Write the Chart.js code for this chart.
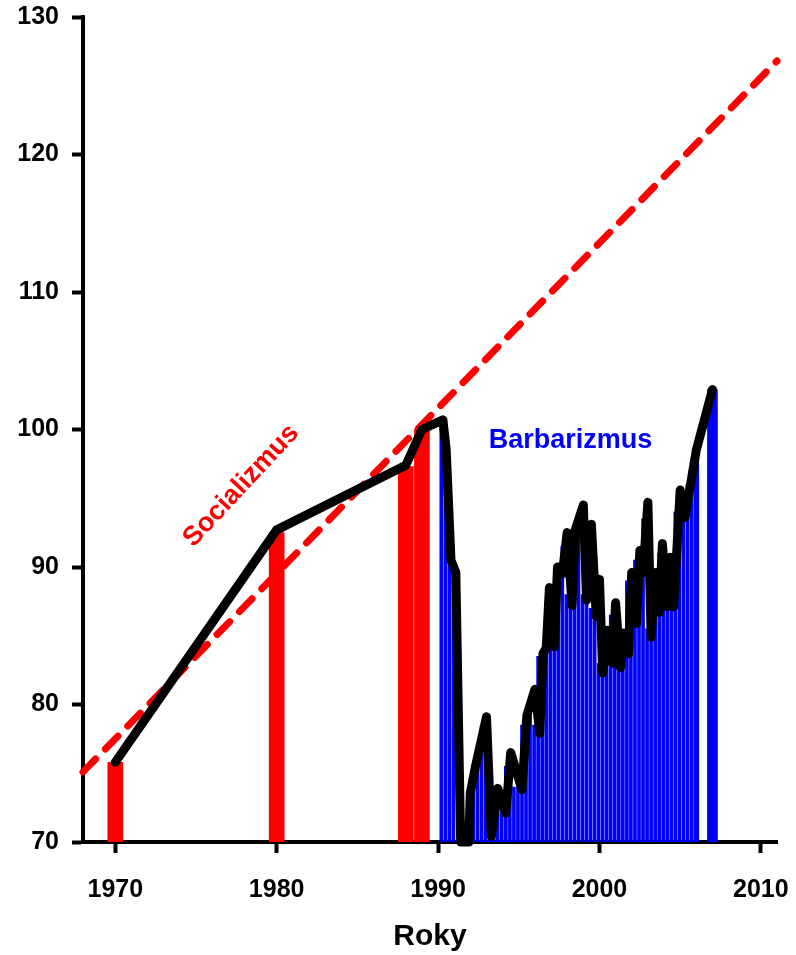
<!DOCTYPE html>
<html>
<head>
<meta charset="utf-8">
<script src="https://cdn.jsdelivr.net/npm/chart.js@4"></script>
<style>
  body { margin: 0; background: #fff; }
  canvas { display: block; }
</style>
</head>
<body>
<canvas id="chart" width="796" height="955"></canvas>
<script>
try {

    // Data
    const xTicks = [1970, 1980, 1990, 2000, 2010];
    const yTicks = [70, 80, 90, 100, 110, 120, 130];

    // annual bars before 1990 (red)
    const redYears = [1970, 1980, 1988, 1989];
    const redValues = [75.8, 92.5, 97.3, 100.0];

    // quarterly bars from 1990 (blue)
    const blueStart = 1990.2;
    const blueValues = [
      100.5, 98.5, 91.0, 89.5,
      70.0, 70.0, 70.0, 72.0,
      74.5, 76.5, 78.5, 76.0,
      70.5, 73.5, 73.0, 72.5,
      75.5, 75.0, 74.0, 74.0,
      78.5, 79.5, 80.5, 78.5,
      83.5, 84.0, 87.5, 84.5,
      88.5, 89.5, 91.5, 88.0,
      91.5, 92.5, 93.5, 88.0,
      92.5, 87.0, 88.5, 83.0,
      85.0, 83.5, 86.5, 83.0,
      85.0, 84.0, 89.0, 86.0,
      90.5, 89.5, 93.5, 85.5,
      89.0, 87.0, 91.0, 87.5,
      90.0, 88.0, 94.0, 93.5,
      95.0, 96.0, 97.0
    ];
    const lateYears = [2006, 2007];
    const lateValues = [98.5, 102.9];

    // black index line
    const lineYears = [1970, 1980, 1988, 1989, 1990.3, 1990.5, 1990.8, 1991.1, 1991.4, 1991.9, 1992.0,
      1992.3, 1993.0, 1993.3, 1993.7, 1994.2, 1994.5, 1995.2, 1995.5, 1996.0, 1996.3, 1996.5,
      1996.7, 1996.9, 1997.2, 1997.4, 1997.7, 1998.0, 1998.3, 1998.5, 1999.0, 1999.2, 1999.5,
      1999.8, 2000.0, 2000.2, 2000.5, 2000.8, 2001.0, 2001.3, 2001.5, 2001.8, 2002.0, 2002.3,
      2002.5, 2002.7, 2003.0, 2003.2, 2003.5, 2003.7, 2003.9, 2004.2, 2004.4, 2004.6, 2005.0,
      2005.3, 2006.0, 2007.0];
    const lineValues = [75.8, 92.7, 97.4, 100.0, 100.7, 98.6, 90.5, 89.6, 70.0, 70.0, 73.6,
      75.4, 79.1, 70.4, 73.9, 72.1, 76.5, 73.8, 79.2, 81.1, 77.9, 83.7,
      84.1, 88.5, 84.2, 90.0, 89.5, 92.5, 87.2, 92.7, 94.5, 87.6, 93.1,
      86.4, 89.1, 82.3, 85.4, 83.0, 87.4, 82.7, 85.2, 83.7, 89.6, 85.9,
      91.2, 89.6, 94.7, 84.9, 89.6, 86.7, 91.7, 87.1, 90.7, 87.1, 95.6,
      93.6, 98.5, 102.9];

    // red dashed trend
    const trendYears = [1968, 2011];
    const trendValues = [75.1, 126.8];

    // text labels: [text, year, value, angle, colour]
    const notes = [
      ['Socializmus', 1977.8, 95.9, -47, '#ff0000'],
      ['Barbarizmus', 1998.2, 99.2, 0, '#0000ff']
    ];

    const pts = (xs, ys) => xs.map((x, i) => ({ x: x, y: ys[i] }));
    const bluePts = blueValues.map((v, i) => ({ x: blueStart + i * 0.25, y: v }));

    const FONT = 'Liberation Sans, Arial, sans-serif';

    const notePlugin = {
      id: 'notes',
      afterDatasetsDraw(chart) {
        const ctx = chart.ctx;
        const xs = chart.scales.x, ys = chart.scales.y;
        notes.forEach(n => {
          ctx.save();
          ctx.translate(xs.getPixelForValue(n[1]), ys.getPixelForValue(n[2]));
          ctx.rotate(n[3] * Math.PI / 180);
          ctx.font = 'bold 27px ' + FONT;
          ctx.fillStyle = n[4];
          ctx.textAlign = 'center';
          ctx.textBaseline = 'middle';
          ctx.fillText(n[0], 0, 0);
          ctx.restore();
        });
      }
    };

    const ctx = document.getElementById('chart').getContext('2d');
    const chart = new Chart(ctx, {
      type: 'bar',
      data: {
        datasets: [
          {
            type: 'line',
            label: 'Index',
            data: pts(lineYears, lineValues),
            borderColor: '#000',
            borderWidth: 9,
            pointRadius: 0,
            borderJoinStyle: 'round',
            borderCapStyle: 'round',
            tension: 0,
            clip: 10,
            order: 0
          },
          {
            type: 'line',
            label: 'Trend',
            data: pts(trendYears, trendValues),
            borderColor: '#ff0000',
            borderWidth: 7,
            borderDash: [18, 14],
            borderCapStyle: 'round',
            pointRadius: 0,
            clip: 10,
            order: 1
          },
          {
            label: 'Socializmus',
            data: pts(redYears, redValues),
            backgroundColor: '#ff0000',
            barThickness: 15,
            grouped: false,
            order: 2
          },
          {
            label: 'Barbarizmus',
            data: bluePts,
            backgroundColor: '#0000ff',
            barThickness: 3,
            grouped: false,
            order: 2
          },
          {
            label: 'Barbarizmus 2006',
            data: pts(lateYears.slice(0, 1), lateValues.slice(0, 1)),
            backgroundColor: '#0000ff',
            barThickness: 5,
            grouped: false,
            order: 2
          },
          {
            label: 'Barbarizmus 2007',
            data: pts(lateYears.slice(1), lateValues.slice(1)),
            backgroundColor: '#0000ff',
            barThickness: 10,
            grouped: false,
            order: 2
          }
        ]
      },
      options: {
        responsive: false,
        animation: false,
        events: [],
        layout: { padding: { top: 17, right: 19, left: 0, bottom: 0 } },
        plugins: {
          legend: { display: false },
          tooltip: { enabled: false }
        },
        scales: {
          x: {
            type: 'linear',
            min: 1968,
            max: 2011,
            offset: false,
            afterBuildTicks: s => { s.ticks = xTicks.map(v => ({ value: v })); },
            afterFit: s => { s.height = 113; s.paddingLeft = 0; s.paddingRight = 0; },
            border: { display: true, color: '#000', width: 4 },
            grid: { display: true, offset: false, drawOnChartArea: false, drawTicks: true, tickLength: 11, tickWidth: 4, tickColor: '#000' },
            ticks: {
              color: '#000',
              padding: 22,
              maxRotation: 0,
              font: { family: FONT, size: 25, weight: 'bold' },
              callback: v => String(v)
            },
            title: {
              display: true,
              text: 'Roky',
              color: '#000',
              padding: { top: 4, bottom: 0 },
              font: { family: FONT, size: 30, weight: 'bold' }
            }
          },
          y: {
            type: 'linear',
            min: 70,
            max: 130,
            afterBuildTicks: s => { s.ticks = yTicks.map(v => ({ value: v })); },
            afterFit: s => { s.width = 83; s.paddingTop = 0; s.paddingBottom = 0; },
            border: { display: true, color: '#000', width: 4 },
            grid: { display: true, offset: false, drawOnChartArea: false, drawTicks: true, tickLength: 11, tickWidth: 4, tickColor: '#000' },
            ticks: {
              color: '#000',
              padding: 13,
              font: { family: FONT, size: 25, weight: 'bold' },
              callback: v => String(v)
            }
          }
        }
      },
      plugins: [notePlugin]
    });

} catch (e) {
    console.log(e);
}
</script>
</body>
</html>
